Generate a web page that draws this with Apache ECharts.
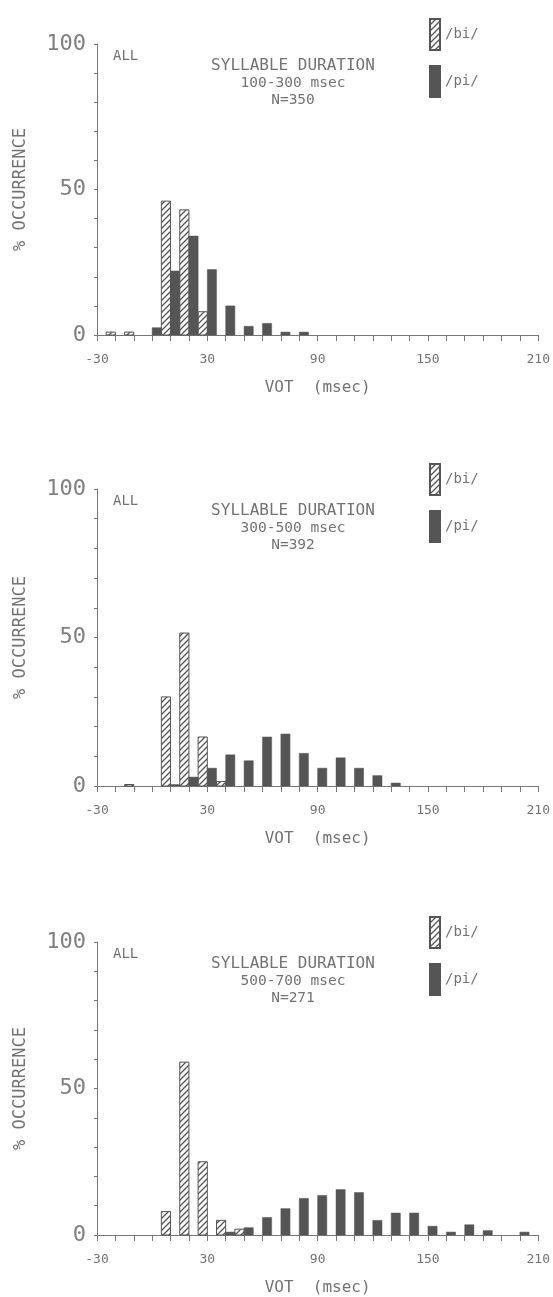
<!DOCTYPE html>
<html>
<head>
<meta charset="utf-8">
<script src="https://cdn.jsdelivr.net/npm/echarts@6/dist/echarts.min.js"></script>
<style>
  html, body { margin: 0; padding: 0; background: #fff; }
  #chart { width: 553px; height: 1297px; }
</style>
</head>
<body>
<div id="chart"></div>
<script>
// VOT bins (msec, bin centre) and % occurrence
const durations = ['100-300 msec', '300-500 msec', '500-700 msec'];
const counts = ['N=350', 'N=392', 'N=271'];

const bi1Vot = [-20, -10, 10, 20, 30];
const bi1Pct = [1, 1, 46, 43, 8];
const pi1Vot = [0, 10, 20, 30, 40, 50, 60, 70, 80];
const pi1Pct = [2.5, 22, 34, 22.5, 10, 3, 4, 1, 1];

const bi2Vot = [-10, 10, 20, 30, 40];
const bi2Pct = [0.5, 30, 51.5, 16.5, 1.5];
const pi2Vot = [10, 20, 30, 40, 50, 60, 70, 80, 90, 100, 110, 120, 130];
const pi2Pct = [0.5, 3, 6, 10.5, 8.5, 16.5, 17.5, 11, 6, 9.5, 6, 3.5, 1];

const bi3Vot = [10, 20, 30, 40, 50];
const bi3Pct = [8, 59, 25, 5, 2];
const pi3Vot = [40, 50, 60, 70, 80, 90, 100, 110, 120, 130, 140, 150, 160, 170, 180, 200];
const pi3Pct = [1, 2.5, 6, 9, 12.5, 13.5, 15.5, 14.5, 5, 7.5, 7.5, 3, 1, 3.5, 1.5, 1];

const biSets = [[bi1Vot, bi1Pct], [bi2Vot, bi2Pct], [bi3Vot, bi3Pct]];
const piSets = [[pi1Vot, pi1Pct], [pi2Vot, pi2Pct], [pi3Vot, pi3Pct]];

const INK = '#555';
const TXT = '#737373';
const MONO = '"DejaVu Sans Mono", "Liberation Mono", monospace';

// hatched fill for /bi/
function makeHatch() {
    const c = document.createElement('canvas');
    c.width = 6; c.height = 6;
    const g = c.getContext('2d');
    g.fillStyle = '#fff';
    g.fillRect(0, 0, 6, 6);
    g.strokeStyle = INK;
    g.lineWidth = 1.3;
    g.beginPath();
    g.moveTo(-1, 7); g.lineTo(7, -1);
    g.moveTo(-1, 1); g.lineTo(1, -1);
    g.moveTo(5, 7); g.lineTo(7, 5);
    g.stroke();
    return c;
}
const hatch = { image: makeHatch(), repeat: 'repeat' };

// each bin: /bi/ in left half, /pi/ in right half
function halfBar(from, to) {
    return function (params, api) {
        const v = api.value(0), h = api.value(1);
        const a = api.coord([v + from, h]);
        const b = api.coord([v + to, 0]);
        return {
            type: 'rect',
            shape: { x: a[0], y: a[1], width: b[0] - a[0], height: b[1] - a[1] },
            style: api.style()
        };
    };
}

const grids = [
    { top: 44, height: 291 },
    { top: 489, height: 297 },
    { top: 942, height: 294 }
];

const chart = echarts.init(document.getElementById('chart'));
const option = {
    backgroundColor: '#fff',
    animation: false,
    grid: [], xAxis: [], yAxis: [], series: [], legend: [], graphic: []
};

grids.forEach((g, i) => {
    option.grid.push({ left: 97, width: 442, top: g.top, height: g.height });
    option.xAxis.push({
        type: 'value', gridIndex: i, min: -30, max: 210, interval: 10,
        name: 'VOT  (msec)', nameLocation: 'middle', nameGap: 45,
        nameTextStyle: { fontFamily: MONO, fontSize: 16, color: TXT },
        axisLine: { onZero: false, lineStyle: { color: '#777', width: 1 } },
        axisTick: { length: 6, lineStyle: { color: '#777' } },
        splitLine: { show: false },
        axisLabel: {
            margin: 18, fontFamily: MONO, fontSize: 13, color: TXT, showMinLabel: true, showMaxLabel: true,
            formatter: v => ((v + 30) % 60 === 0 ? String(v) : '')
        }
    });
    option.yAxis.push({
        type: 'value', gridIndex: i, min: 0, max: 100, interval: 10,
        name: '% OCCURRENCE', nameLocation: 'middle', nameRotate: 90, nameGap: 68,
        nameTextStyle: { fontFamily: MONO, fontSize: 17, color: TXT },
        axisLine: { show: true, onZero: false, lineStyle: { color: '#777', width: 1 } },
        axisTick: { show: true, length: 3, lineStyle: { color: '#777' } },
        splitLine: { show: false },
        axisLabel: {
            margin: 11, fontFamily: MONO, fontSize: 22, color: '#808080',
            formatter: v => (v % 50 === 0 ? String(v) : '')
        }
    });
    const bi = biSets[i], pi = piSets[i];
    option.series.push({
        type: 'custom', name: '/bi/', xAxisIndex: i, yAxisIndex: i,
        renderItem: halfBar(-5, 0),
        itemStyle: { color: hatch, borderColor: INK, borderWidth: 1 },
        encode: { x: 0, y: 1 },
        data: bi[0].map((v, k) => [v, bi[1][k]])
    });
    option.series.push({
        type: 'custom', name: '/pi/', xAxisIndex: i, yAxisIndex: i,
        renderItem: halfBar(0, 5),
        itemStyle: { color: INK, borderColor: INK, borderWidth: 0.5 },
        encode: { x: 0, y: 1 },
        data: pi[0].map((v, k) => [v, pi[1][k]])
    });
    option.legend.push({
        data: ['/bi/', '/pi/'], orient: 'vertical', left: 424, top: g.top - 31,
        icon: 'rect', itemWidth: 10, itemHeight: 31, itemGap: 14,
        selectedMode: false,
        textStyle: { fontFamily: MONO, fontSize: 14, color: TXT }
    });
    const t = g.top;
    option.graphic.push(
        { type: 'text', left: 113, top: t + 5, style: { text: 'ALL', font: '14px ' + MONO, fill: TXT } },
        { type: 'text', x: 293, y: t + 22, style: { text: 'SYLLABLE DURATION', font: '16px ' + MONO, fill: TXT, textAlign: 'center', textVerticalAlign: 'middle' } },
        { type: 'text', x: 293, y: t + 39, style: { text: durations[i], font: '14.5px ' + MONO, fill: TXT, textAlign: 'center', textVerticalAlign: 'middle' } },
        { type: 'text', x: 293, y: t + 56, style: { text: counts[i], font: '14.5px ' + MONO, fill: TXT, textAlign: 'center', textVerticalAlign: 'middle' } }
    );
});

chart.setOption(option);
</script>
</body>
</html>
